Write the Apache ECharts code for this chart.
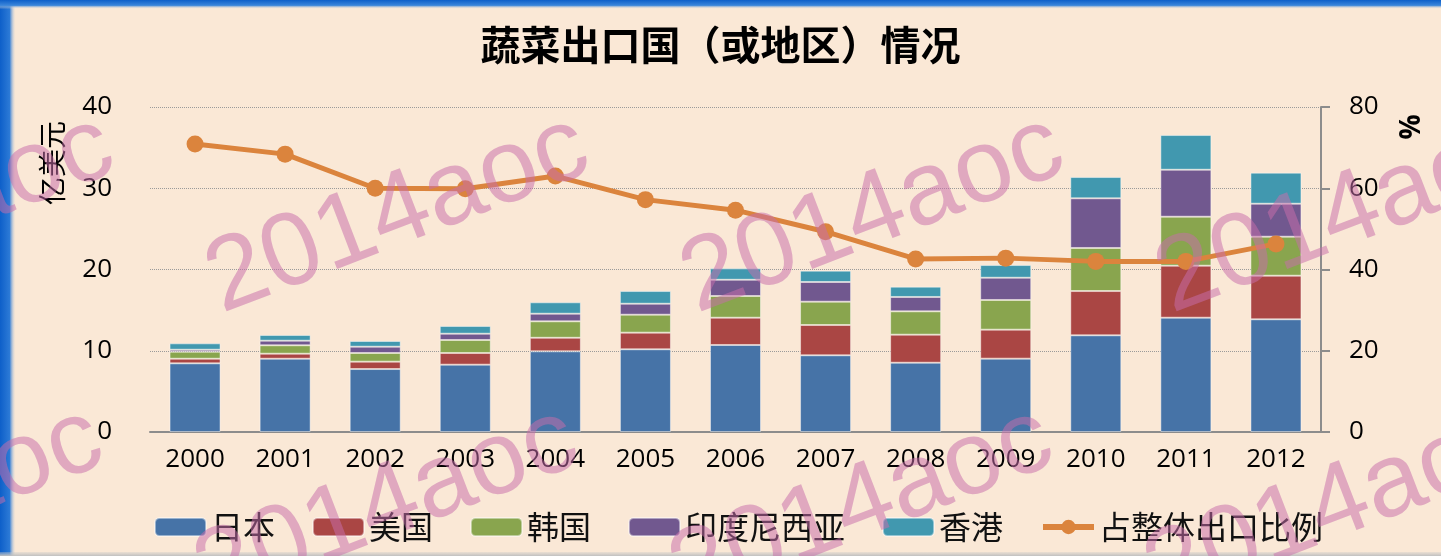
<!DOCTYPE html>
<html>
<head>
<meta charset="utf-8">
<title>蔬菜出口国（或地区）情况</title>
<script src="https://cdn.jsdelivr.net/npm/echarts@6/dist/echarts.min.js"></script>
<style>
  html, body { margin: 0; padding: 0; background: #fae8d6; }
  #chart { width: 1441px; height: 556px; }
</style>
</head>
<body>
<div id="chart"></div>
<script>
  // 数据（亿美元 / %）
  var years = ['2000', '2001', '2002', '2003', '2004', '2005', '2006', '2007', '2008', '2009', '2010', '2011', '2012'];
  var japan = [8.45, 9.02, 7.75, 8.29, 9.93, 10.18, 10.71, 9.44, 8.53, 9.03, 11.9, 14.07, 13.87];
  var usa = [0.57, 0.62, 0.91, 1.43, 1.67, 2.05, 3.36, 3.73, 3.45, 3.57, 5.45, 6.4, 5.37];
  var korea = [0.86, 1.03, 1.06, 1.6, 2.02, 2.21, 2.67, 2.87, 2.87, 3.65, 5.3, 6.03, 4.8];
  var indonesia = [0.25, 0.57, 0.78, 0.78, 0.94, 1.35, 2.0, 2.42, 1.77, 2.74, 6.11, 5.78, 4.06];
  var hongkong = [0.78, 0.7, 0.7, 0.95, 1.4, 1.56, 1.4, 1.4, 1.27, 1.56, 2.62, 4.27, 3.82];
  var share = [70.9, 68.4, 60.0, 59.9, 63.0, 57.2, 54.6, 49.3, 42.6, 42.8, 42.0, 42.0, 46.3];

  var leftTicks = [0, 40, 10];   // min, max, interval
  var rightTicks = [0, 80, 20];

  var numFont = "'Open Sans', 'DejaVu Sans Condensed', sans-serif";
  var cjkFont = "'Noto Sans CJK SC', sans-serif";
  var axisGray = '#8c8c8c';

  var chart = echarts.init(document.getElementById('chart'));

  function barSeries (name, data, color) {
    return {
      name: name,
      type: 'bar',
      stack: 'total',
      barWidth: 51,
      itemStyle: {
        color: color,
        borderColor: 'rgba(255,255,255,0.45)',
        borderWidth: 1
      },
      data: data
    };
  }

  // 水印 "2014aoc"
  var marks = [];
  var rowA = [[-245, 335], [230, 335], [705, 335], [1180, 335]];
  var rowB = [[-256, 627], [219, 627], [694, 627], [1169, 627]];
  rowA.concat(rowB).forEach(function (p) {
    marks.push({
      type: 'text',
      x: p[0],
      y: p[1],
      rotation: 21 * Math.PI / 180,
      z: 100,
      silent: true,
      style: {
        text: '2014aoc',
        fontSize: 104,
        fontFamily: "'Liberation Sans', Arial, sans-serif",
        fill: 'rgba(200,110,170,0.52)',
        verticalAlign: 'bottom',
        align: 'left'
      }
    });
  });

  var option = {
    backgroundColor: '#fae8d6',
    animation: false,
    title: {
      text: '蔬菜出口国（或地区）情况',
      left: 'center',
      top: 20,
      textStyle: {
        fontFamily: cjkFont,
        fontSize: 40,
        fontWeight: 'bold',
        color: '#000'
      }
    },
    legend: {
      left: 154,
      top: 511,
      padding: 0,
      itemWidth: 51,
      itemHeight: 18,
      itemGap: 37,
      textStyle: {
        fontFamily: cjkFont,
        fontSize: 32,
        color: '#111'
      },
      data: [
        '日本', '美国', '韩国', '印度尼西亚', '香港',
        {
          name: '占整体出口比例',
          lineStyle: { width: 6 },
          itemStyle: { color: '#db843d' }
        }
      ]
    },
    grid: {
      left: 150,
      right: 120,
      top: 107,
      bottom: 124
    },
    xAxis: {
      type: 'category',
      data: years,
      axisLine: { lineStyle: { color: axisGray, width: 2 } },
      axisTick: { show: false },
      axisLabel: {
        color: '#000',
        fontFamily: numFont,
        fontSize: 26,
        margin: 15
      }
    },
    yAxis: [
      {
        type: 'value',
        min: leftTicks[0],
        max: leftTicks[1],
        interval: leftTicks[2],
        axisLine: { show: false },
        axisTick: { show: false },
        axisLabel: {
          color: '#000',
          fontFamily: numFont,
          fontSize: 26,
          margin: 38
        },
        splitLine: {
          lineStyle: { type: 'dotted', color: '#9a9a9a', width: 1 }
        }
      },
      {
        type: 'value',
        min: rightTicks[0],
        max: rightTicks[1],
        interval: rightTicks[2],
        axisLine: { show: true, lineStyle: { color: axisGray, width: 2 } },
        axisTick: { show: true, length: 9, lineStyle: { color: axisGray, width: 2 } },
        axisLabel: {
          color: '#000',
          fontFamily: numFont,
          fontSize: 26,
          margin: 28
        },
        splitLine: { show: false }
      }
    ],
    graphic: [
      {
        type: 'rect',
        shape: { x: 0, y: 0, width: 16, height: 556 },
        style: {
          fill: new echarts.graphic.LinearGradient(0, 0, 1, 0, [
            { offset: 0, color: '#0d5fc9' },
            { offset: 0.6, color: '#2c7ad6' },
            { offset: 1, color: 'rgba(250,232,214,0)' }
          ])
        },
        z: 90
      },
      {
        type: 'rect',
        shape: { x: 0, y: 0, width: 1441, height: 9 },
        style: {
          fill: new echarts.graphic.LinearGradient(0, 0, 0, 1, [
            { offset: 0, color: '#0d5fc9' },
            { offset: 0.6, color: '#3b86da' },
            { offset: 1, color: 'rgba(250,232,214,0)' }
          ])
        },
        z: 90
      },
      {
        type: 'rect',
        shape: { x: 0, y: 552, width: 1441, height: 4 },
        style: {
          fill: new echarts.graphic.LinearGradient(0, 0, 0, 1, [
            { offset: 0, color: 'rgba(200,200,200,0.3)' },
            { offset: 1, color: '#c0c0c0' }
          ])
        },
        z: 90
      },
      {
        type: 'text',
        x: 52,
        y: 163,
        rotation: Math.PI / 2,
        style: {
          text: '亿美元',
          fontFamily: cjkFont,
          fontSize: 28,
          fill: '#000',
          align: 'center',
          verticalAlign: 'middle'
        }
      },
      {
        type: 'text',
        x: 1412,
        y: 127,
        rotation: Math.PI / 2,
        style: {
          text: '%',
          fontFamily: numFont,
          fontSize: 28,
          fontWeight: 'bold',
          fill: '#000',
          align: 'center',
          verticalAlign: 'middle'
        }
      }
    ].concat(marks),
    series: [
      barSeries('日本', japan, '#4673a7'),
      barSeries('美国', usa, '#aa4644'),
      barSeries('韩国', korea, '#89a54e'),
      barSeries('印度尼西亚', indonesia, '#71588f'),
      barSeries('香港', hongkong, '#4198af'),
      {
        name: '占整体出口比例',
        type: 'line',
        yAxisIndex: 1,
        z: 5,
        symbol: 'circle',
        symbolSize: 17,
        lineStyle: { color: '#db843d', width: 5 },
        itemStyle: { color: '#db843d' },
        data: share
      }
    ]
  };

  chart.setOption(option);
</script>
</body>
</html>
